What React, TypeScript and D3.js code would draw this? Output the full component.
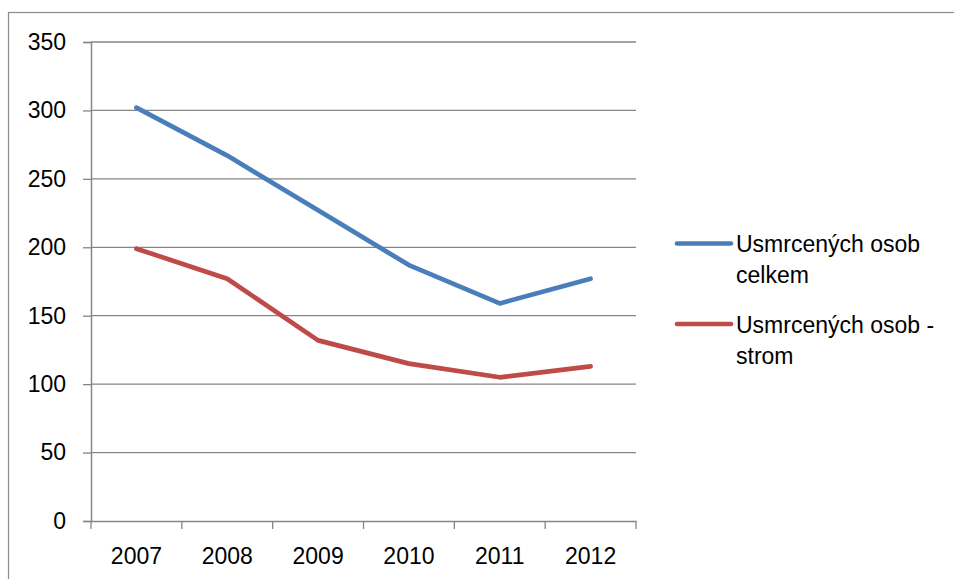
import React, { useRef, useEffect } from "react";
import * as d3 from "d3";

const years = ["2007", "2008", "2009", "2010", "2011", "2012"];
const celkem = [302, 267, 227, 187, 159, 177];
const strom = [199, 177, 132, 115, 105, 113];
const yTicks = [0, 50, 100, 150, 200, 250, 300, 350];
const seriesNames = [["Usmrcených osob", "celkem"], ["Usmrcených osob -", "strom"]];
const seriesColors = ["#4A7EBB", "#BE4B48"];

const App = () => {
  const svgRef = useRef<SVGSVGElement>(null);

  useEffect(() => {
    const width = 954;
    const height = 579;
    const margin = { top: 42, left: 91, right: 318, bottom: 58 };
    const font = "'Liberation Sans', Arial, sans-serif";

    const svg = d3.select(svgRef.current);
    svg.selectAll("*").remove();
    svg.attr("width", width).attr("height", height);

    svg.append("rect").attr("width", width).attr("height", height).attr("fill", "#fff");

    // outer chart frame, runs off the picture on the right and bottom
    svg
      .append("rect")
      .attr("x", 8.5)
      .attr("y", 12.5)
      .attr("width", 1200)
      .attr("height", 800)
      .attr("fill", "none")
      .attr("stroke", "#8c8c8c")
      .attr("stroke-width", 1.2);

    const x = d3
      .scaleBand()
      .domain(years)
      .range([margin.left, width - margin.right]);

    const y = d3
      .scaleLinear()
      .domain([0, 350])
      .range([height - margin.bottom, margin.top]);

    const g = svg.append("g");

    // gridlines
    g.selectAll(".grid")
      .data(yTicks.filter((d) => d > 0))
      .enter()
      .append("line")
      .attr("x1", margin.left)
      .attr("x2", width - margin.right)
      .attr("y1", (d) => y(d))
      .attr("y2", (d) => y(d))
      .attr("stroke", "#868686")
      .attr("stroke-width", 1.3);

    // y axis
    const yAxis = g
      .append("g")
      .attr("transform", `translate(${margin.left},0)`)
      .call(d3.axisLeft(y).tickValues(yTicks).tickSize(8).tickPadding(17));
    yAxis.select(".domain").attr("stroke", "#868686").attr("stroke-width", 1.5);
    yAxis.selectAll(".tick line").attr("stroke", "#868686").attr("stroke-width", 1.3);
    yAxis
      .selectAll(".tick text")
      .attr("font-family", font)
      .attr("font-size", 23)
      .attr("fill", "#000");

    // x axis
    const xAxis = g
      .append("g")
      .attr("transform", `translate(0,${y(0)})`)
      .call(d3.axisBottom(x).tickSize(0).tickPadding(27));
    xAxis.select(".domain").attr("stroke", "#868686").attr("stroke-width", 1.5);
    xAxis
      .selectAll(".tick text")
      .attr("font-family", font)
      .attr("font-size", 23)
      .attr("fill", "#000");

    const edges = years.map((d) => x(d)).concat([width - margin.right]);
    g.selectAll(".xtick")
      .data(edges)
      .enter()
      .append("line")
      .attr("x1", (d) => d)
      .attr("x2", (d) => d)
      .attr("y1", y(0))
      .attr("y2", y(0) + 8)
      .attr("stroke", "#868686")
      .attr("stroke-width", 1.3);

    const line = d3
      .line<number>()
      .x((d, i) => x(years[i]) + x.bandwidth() / 2)
      .y((d) => y(d));

    [celkem, strom].forEach((s, i) => {
      g.append("path")
        .datum(s)
        .attr("d", line)
        .attr("fill", "none")
        .attr("stroke", seriesColors[i])
        .attr("stroke-width", 4.7)
        .attr("stroke-linejoin", "round")
        .attr("stroke-linecap", "round");
    });

    // legend
    const legendY = [243.5, 324];
    seriesNames.forEach((name, i) => {
      const lg = g.append("g").attr("transform", `translate(677,${legendY[i]})`);
      lg.append("line")
        .attr("x1", 0)
        .attr("x2", 54)
        .attr("stroke", seriesColors[i])
        .attr("stroke-width", 4.7)
        .attr("stroke-linecap", "round");
      const t = lg
        .append("text")
        .attr("x", 59)
        .attr("y", 8.5)
        .attr("font-family", font)
        .attr("font-size", 23)
        .attr("fill", "#000");
      name.forEach((part, j) => {
        t.append("tspan").attr("x", 59).attr("dy", j === 0 ? 0 : 31).text(part);
      });
    });
  }, []);

  return (
    <svg
      ref={svgRef}
      style={{ position: "absolute", left: 0, top: 0, display: "block" }}
    ></svg>
  );
};

export default App;
